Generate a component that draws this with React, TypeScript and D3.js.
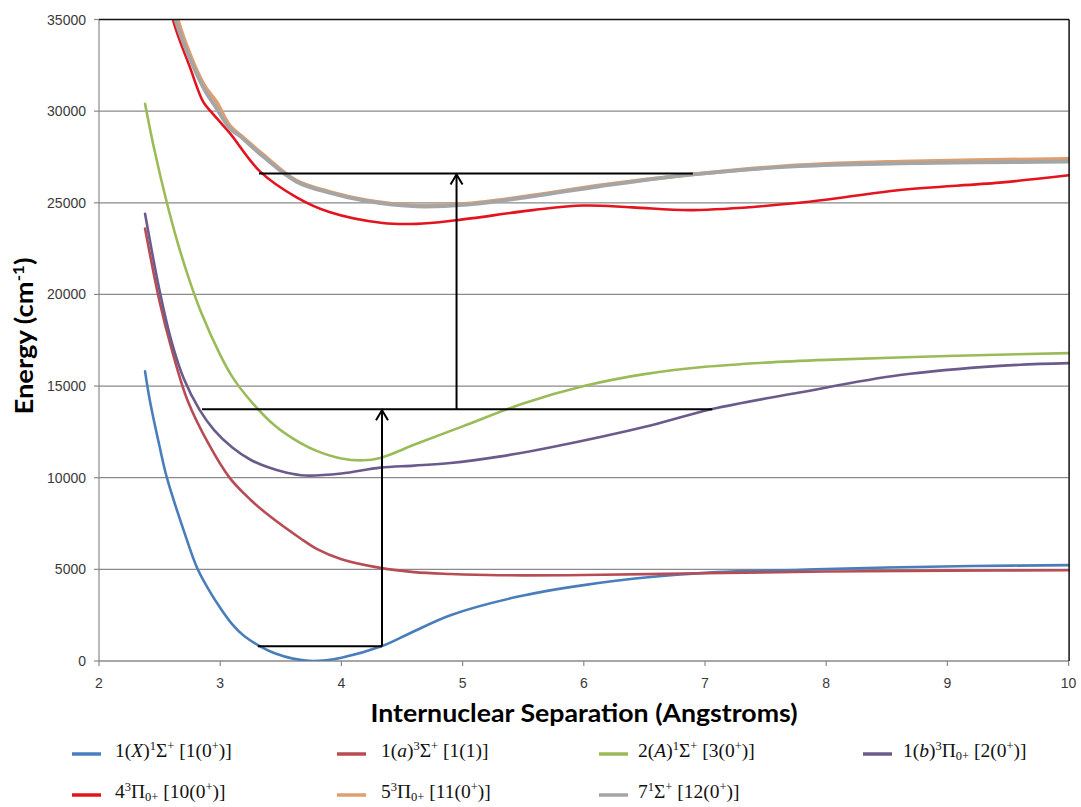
import React from "react";
import * as d3 from "d3";

// Potential energy curves (R in Angstroms, E in cm^-1)
const rX = [2.38, 2.42, 2.5, 2.56, 2.7, 2.81, 2.9, 3.0, 3.1, 3.2, 3.33, 3.45, 3.6, 3.77, 4.0, 4.33, 4.57, 4.9, 5.45, 6.0, 6.55, 7.1, 7.8, 8.5, 9.2, 10];
const eX = [15800, 14200, 11700, 10000, 7100, 5070, 3950, 2900, 2000, 1350, 800, 420, 130, 0, 180, 800, 1530, 2500, 3500, 4140, 4580, 4850, 4980, 5100, 5180, 5230];

const rSmallA = [2.38, 2.5, 2.6, 2.73, 2.9, 3.08, 3.25, 3.4, 3.66, 3.8, 4.0, 4.32, 4.6, 4.9, 5.3, 6.0, 7.0, 8.0, 9.0, 10];
const eSmallA = [23600, 19600, 17000, 14230, 11900, 9980, 8800, 7950, 6700, 6100, 5550, 5080, 4850, 4750, 4680, 4690, 4790, 4880, 4930, 4950];

const rBigA = [2.38, 2.45, 2.56, 2.65, 2.75, 2.85, 3.0, 3.1, 3.25, 3.45, 3.66, 3.8, 4.0, 4.18, 4.32, 4.62, 5.0, 5.5, 6.0, 6.5, 7.0, 7.5, 8.0, 9.0, 10];
const eBigA = [30400, 28100, 25000, 22800, 20700, 18900, 16700, 15500, 14200, 12850, 11900, 11450, 11050, 10950, 11080, 11850, 12800, 14050, 15000, 15650, 16050, 16280, 16430, 16640, 16800];

const rB = [2.38, 2.5, 2.6, 2.7, 2.83, 2.95, 3.1, 3.25, 3.39, 3.55, 3.7, 4.0, 4.32, 4.6, 4.9, 5.3, 5.72, 6.55, 7.06, 7.78, 8.61, 9.43, 10];
const eB = [24400, 20200, 17400, 15400, 13700, 12600, 11650, 10980, 10580, 10270, 10120, 10230, 10550, 10660, 10800, 11150, 11650, 12850, 13750, 14650, 15600, 16100, 16250];

const r4Pi = [2.55, 2.61, 2.75, 2.86, 2.92, 3.0, 3.08, 3.33, 3.63, 3.9, 4.34, 4.62, 4.95, 5.58, 6.0, 6.4, 6.9, 7.78, 8.61, 9.43, 10];
const e4Pi = [37500, 35000, 32400, 30500, 30000, 29400, 28800, 26700, 25300, 24500, 23900, 23850, 24050, 24600, 24850, 24750, 24600, 25000, 25700, 26100, 26500];

const r5Pi = [2.58, 2.65, 2.86, 2.97, 3.08, 3.2, 3.35, 3.63, 3.9, 4.2, 4.62, 5.04, 5.58, 6.13, 6.9, 7.78, 8.61, 10];
const e5Pi = [37500, 35000, 31500, 30500, 29200, 28500, 27650, 26200, 25600, 25150, 24850, 24950, 25400, 25950, 26550, 27050, 27250, 27400];

const r7Sigma = [2.56, 2.63, 2.86, 2.97, 3.08, 3.16, 3.35, 3.63, 3.9, 4.2, 4.62, 5.04, 5.58, 6.13, 6.9, 7.78, 8.61, 10];
const e7Sigma = [37500, 35000, 31300, 30150, 29050, 28650, 27550, 26150, 25550, 25100, 24800, 24900, 25350, 25900, 26550, 27000, 27150, 27250];

// Transition scheme: horizontal levels and vertical excitation arrows
const levelEnergy = [800, 13740, 26600];
const levelStart = [3.31, 2.85, 3.32];
const levelEnd = [4.335, 7.06, 6.9];
const arrowR = [4.335, 4.95];
const arrowFrom = [800, 13740];
const arrowTo = [13740, 26600];

const xTicks = [2, 3, 4, 5, 6, 7, 8, 9, 10];
const yTicks = [0, 5000, 10000, 15000, 20000, 25000, 30000, 35000];

type Seg = { t: string; k?: "i" | "sup" | "sub" };

const seriesList: { r: number[]; e: number[]; color: string; width: number; label: Seg[] }[] = [
  {
    r: rX, e: eX, color: "#4a7ebb", width: 2.6,
    label: [{ t: "1(" }, { t: "X", k: "i" }, { t: ")" }, { t: "1", k: "sup" }, { t: "Σ" }, { t: "+", k: "sup" }, { t: " [1(0" }, { t: "+", k: "sup" }, { t: ")]" }],
  },
  {
    r: rSmallA, e: eSmallA, color: "#b84c55", width: 2.6,
    label: [{ t: "1(" }, { t: "a", k: "i" }, { t: ")" }, { t: "3", k: "sup" }, { t: "Σ" }, { t: "+", k: "sup" }, { t: " [1(1)]" }],
  },
  {
    r: rBigA, e: eBigA, color: "#9bbb59", width: 2.6,
    label: [{ t: "2(" }, { t: "A", k: "i" }, { t: ")" }, { t: "1", k: "sup" }, { t: "Σ" }, { t: "+", k: "sup" }, { t: " [3(0" }, { t: "+", k: "sup" }, { t: ")]" }],
  },
  {
    r: rB, e: eB, color: "#6b5b8c", width: 2.6,
    label: [{ t: "1(" }, { t: "b", k: "i" }, { t: ")" }, { t: "3", k: "sup" }, { t: "Π" }, { t: "0+", k: "sub" }, { t: " [2(0" }, { t: "+", k: "sup" }, { t: ")]" }],
  },
  {
    r: r4Pi, e: e4Pi, color: "#e3141e", width: 2.6,
    label: [{ t: "4" }, { t: "3", k: "sup" }, { t: "Π" }, { t: "0+", k: "sub" }, { t: " [10(0" }, { t: "+", k: "sup" }, { t: ")]" }],
  },
  {
    r: r5Pi, e: e5Pi, color: "#dd9f70", width: 3.8,
    label: [{ t: "5" }, { t: "3", k: "sup" }, { t: "Π" }, { t: "0+", k: "sub" }, { t: " [11(0" }, { t: "+", k: "sup" }, { t: ")]" }],
  },
  {
    r: r7Sigma, e: e7Sigma, color: "#a5a5a5", width: 3.8,
    label: [{ t: "7" }, { t: "1", k: "sup" }, { t: "Σ" }, { t: "+", k: "sup" }, { t: " [12(0" }, { t: "+", k: "sup" }, { t: ")]" }],
  },
];

const legendSwatchX = [72, 337, 599, 863];
const legendTextX = [115, 381, 638, 903];
const legendRowY = [754, 795];

const W = 1081;
const H = 807;
const left = 99;
const right = 1068.6;
const top = 19.5;
const bottom = 661;

const x = d3.scaleLinear().domain([2, 10]).range([left, right]);
const y = d3.scaleLinear().domain([0, 35000]).range([bottom, top]);

const lineGen = d3
  .line<[number, number]>()
  .x((d) => x(d[0]))
  .y((d) => y(d[1]))
  .curve(d3.curveCatmullRom.alpha(0.5));

function LegendLabel({ segs, tx, ty }: { segs: Seg[]; tx: number; ty: number }) {
  const parts: React.ReactNode[] = [];
  let prevShift = 0;
  segs.forEach((s, i) => {
    const shift = s.k === "sup" ? -7 : s.k === "sub" ? 3 : 0;
    const dy = shift - prevShift;
    prevShift = shift;
    parts.push(
      <tspan
        key={i}
        dy={dy}
        fontStyle={s.k === "i" ? "italic" : "normal"}
        fontSize={s.k === "sup" || s.k === "sub" ? 12.5 : 19.5}
      >
        {s.t}
      </tspan>
    );
  });
  return (
    <text x={tx} y={ty} fontFamily="'Liberation Serif', 'Times New Roman', serif" fill="#111" xmlSpace="preserve">
      {parts}
    </text>
  );
}

export default function App() {
  return (
    <svg
      width={W}
      height={H}
      viewBox={`0 0 ${W} ${H}`}
      style={{ position: "absolute", left: 0, top: 0, background: "#fff" }}
    >
      <defs>
        <clipPath id="plotClip">
          <rect x={left} y={top} width={right - left + 1} height={bottom - top} />
        </clipPath>
      </defs>
      <rect x={0} y={0} width={W} height={H} fill="#fff" />

      {/* horizontal gridlines */}
      {yTicks.map((t) => (
        <line key={"g" + t} x1={left} x2={right} y1={y(t)} y2={y(t)} stroke="#8a8a8a" strokeWidth={1.2} />
      ))}

      {/* axes */}
      <line x1={left} x2={left} y1={top} y2={bottom} stroke="#8a8a8a" strokeWidth={1.2} />
      <line x1={left} x2={right} y1={bottom} y2={bottom} stroke="#8a8a8a" strokeWidth={1.2} />
      {yTicks.map((t) => (
        <g key={"yt" + t}>
          <line x1={left - 5} x2={left} y1={y(t)} y2={y(t)} stroke="#8a8a8a" strokeWidth={1.2} />
          <text
            x={86}
            y={y(t) + 5}
            textAnchor="end"
            fontFamily="'Liberation Sans', Arial, sans-serif"
            fontSize={14}
            fill="#3a3a3a"
          >
            {t}
          </text>
        </g>
      ))}
      {xTicks.map((t) => (
        <g key={"xt" + t}>
          <line x1={x(t)} x2={x(t)} y1={bottom} y2={bottom + 5} stroke="#8a8a8a" strokeWidth={1.2} />
          <text
            x={x(t)}
            y={688}
            textAnchor="middle"
            fontFamily="'Liberation Sans', Arial, sans-serif"
            fontSize={14}
            fill="#3a3a3a"
          >
            {t}
          </text>
        </g>
      ))}

      {/* curves */}
      <g clipPath="url(#plotClip)">
        {seriesList.map((s, i) => (
          <path
            key={"s" + i}
            d={lineGen(s.r.map((r, j) => [r, s.e[j]] as [number, number])) || ""}
            fill="none"
            stroke={s.color}
            strokeWidth={s.width}
            strokeLinejoin="round"
            strokeLinecap="round"
          />
        ))}
      </g>

      {/* transition levels */}
      {levelEnergy.map((e, i) => (
        <line
          key={"lv" + i}
          x1={x(levelStart[i])}
          x2={x(levelEnd[i])}
          y1={y(e)}
          y2={y(e)}
          stroke="#000"
          strokeWidth={2}
        />
      ))}
      {arrowR.map((r, i) => {
        const ax = x(r);
        const y0 = y(arrowFrom[i]);
        const y1 = y(arrowTo[i]);
        return (
          <g key={"ar" + i} stroke="#000" strokeWidth={2} fill="none">
            <line x1={ax} x2={ax} y1={y0} y2={y1 + 1} />
            <path d={`M${ax - 6},${y1 + 11} L${ax},${y1 + 1} L${ax + 6},${y1 + 11}`} strokeLinejoin="miter" />
          </g>
        );
      })}

      {/* plot frame, top and right */}
      <line x1={left} x2={right + 0.5} y1={top} y2={top} stroke="#111" strokeWidth={1.5} />
      <line x1={right + 0.5} x2={right + 0.5} y1={top} y2={bottom} stroke="#111" strokeWidth={1.5} />

      {/* axis titles */}
      <text
        x={584}
        y={722}
        textAnchor="middle"
        fontFamily="Lato, 'Open Sans', sans-serif"
        fontWeight="bold"
        fontSize={24}
        textLength={427}
        lengthAdjust="spacingAndGlyphs"
        fill="#000"
      >
        Internuclear Separation (Angstroms)
      </text>
      <text
        transform="translate(33,336) rotate(-90)"
        textAnchor="middle"
        fontFamily="Lato, 'Open Sans', sans-serif"
        fontWeight="bold"
        fontSize={24}
        textLength={157}
        lengthAdjust="spacingAndGlyphs"
        fill="#000"
      >
        Energy (cm<tspan dy={-9} fontSize={15}>-1</tspan>
        <tspan dy={9}>)</tspan>
      </text>

      {/* legend */}
      {seriesList.map((s, i) => {
        const col = i % 4;
        const row = Math.floor(i / 4);
        const ly = legendRowY[row];
        return (
          <g key={"lg" + i}>
            <line
              x1={legendSwatchX[col]}
              x2={legendSwatchX[col] + 29}
              y1={ly}
              y2={ly}
              stroke={s.color}
              strokeWidth={3.5}
            />
            <LegendLabel segs={s.label} tx={legendTextX[col]} ty={ly + 3} />
          </g>
        );
      })}
    </svg>
  );
}
